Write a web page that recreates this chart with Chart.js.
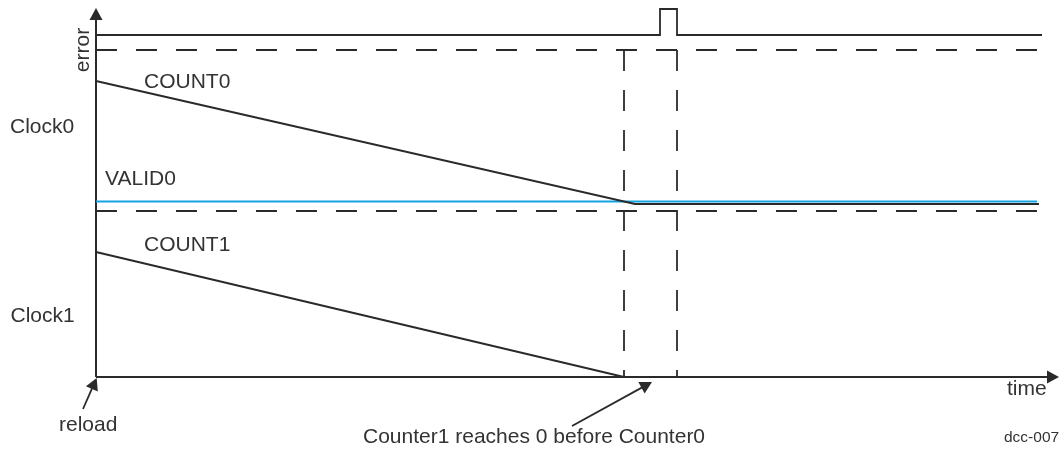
<!DOCTYPE html>
<html>
<head>
<meta charset="utf-8">
<script src="https://cdn.jsdelivr.net/npm/chart.js@4/dist/chart.umd.min.js"></script>
<style>
  html, body { margin: 0; padding: 0; background: #fff; }
  #wrap { width: 1064px; height: 455px; position: relative; }
</style>
</head>
<body>
<div id="wrap"><canvas id="timing"></canvas></div>
<script>
// time axis runs 0..96.4, signal level axis 0..37.7 (arbitrary units)
var errorTimes = [0, 56.4, 56.4, 58.1, 58.1, 94.6];
var errorLevels = [34.2, 34.2, 36.8, 36.8, 34.2, 34.2];
var count0Times = [0, 53.9, 94.3];
var count0Levels = [29.6, 17.3, 17.3];
var valid0Times = [0, 94.1];
var valid0Levels = [17.55, 17.55];
var count1Times = [0, 52.8];
var count1Levels = [12.5, 0];
var guideLevels = [32.7, 16.6];   // horizontal dashed references
var guideTimes = [52.8, 58.1];    // vertical dashed markers
var guideEnd = 94.1;
var timeAxisEnd = 96.3;
var levelAxisEnd = 36.9;
// annotation arrows: [from time, from level, to time, to level]
var reloadArrow = [-1.3, -3.2, 0.07, -0.1];
var counterArrow = [47.6, -4.9, 55.6, -0.5];

var labelTexts = ['error', 'COUNT0', 'Clock0', 'VALID0', 'COUNT1', 'Clock1',
                  'reload', 'time', 'Counter1 reaches 0 before Counter0', 'dcc-007'];

var INK = '#2a2a2a';
var TEXT = '#333333';
var BLUE = '#12a3e0';

function pts(xs, ys) {
    return xs.map(function (x, i) { return {x: x, y: ys[i]}; });
}

function lineSet(data, color, width, dash) {
    return {
        data: data,
        borderColor: color,
        borderWidth: width,
        borderDash: dash || [],
        pointRadius: 0,
        tension: 0,
        fill: false,
        clip: false
    };
}

var datasets = [];
guideLevels.forEach(function (lv) {
    datasets.push(lineSet([{x: 0, y: lv}, {x: guideEnd, y: lv}], INK, 1.8, [21, 19]));
});
guideTimes.forEach(function (t) {
    datasets.push(lineSet([{x: t, y: guideLevels[0]}, {x: t, y: 0}], INK, 1.8, [21, 19]));
});
datasets.push(lineSet(pts(errorTimes, errorLevels), INK, 1.8));
datasets.push(lineSet(pts(count0Times, count0Levels), INK, 1.8));
datasets.push(lineSet(pts(valid0Times, valid0Levels), BLUE, 2));
datasets.push(lineSet(pts(count1Times, count1Levels), INK, 1.8));
// axes
datasets.push(lineSet([{x: 0, y: 0}, {x: timeAxisEnd - 1.1, y: 0}], INK, 2));
datasets.push(lineSet([{x: 0, y: 0}, {x: 0, y: levelAxisEnd - 1.1}], INK, 2));

function head(ctx, fx, fy, tx, ty, len, half) {
    var a = Math.atan2(ty - fy, tx - fx);
    var bx = tx - len * Math.cos(a), by = ty - len * Math.sin(a);
    ctx.beginPath();
    ctx.moveTo(tx, ty);
    ctx.lineTo(bx + half * Math.sin(a), by - half * Math.cos(a));
    ctx.lineTo(bx - half * Math.sin(a), by + half * Math.cos(a));
    ctx.closePath();
    ctx.fill();
}

var decorations = {
    id: 'decorations',
    afterDatasetsDraw: function (chart) {
        var ctx = chart.ctx;
        var xs = chart.scales.x, ys = chart.scales.y;
        ctx.save();
        ctx.fillStyle = INK;
        ctx.strokeStyle = INK;
        // axis arrowheads
        head(ctx, xs.getPixelForValue(0), ys.getPixelForValue(0),
             xs.getPixelForValue(timeAxisEnd), ys.getPixelForValue(0), 12, 6.5);
        head(ctx, xs.getPixelForValue(0), ys.getPixelForValue(0),
             xs.getPixelForValue(0), ys.getPixelForValue(levelAxisEnd), 12, 6.5);
        // annotation arrows
        [reloadArrow, counterArrow].forEach(function (ar) {
            var fx = xs.getPixelForValue(ar[0]), fy = ys.getPixelForValue(ar[1]);
            var tx = xs.getPixelForValue(ar[2]), ty = ys.getPixelForValue(ar[3]);
            var d = Math.hypot(tx - fx, ty - fy);
            ctx.lineWidth = 1.8;
            ctx.beginPath();
            ctx.moveTo(fx, fy);
            ctx.lineTo(tx - 6 * (tx - fx) / d, ty - 6 * (ty - fy) / d);
            ctx.stroke();
            head(ctx, fx, fy, tx, ty, 12, 6.5);
        });
        // labels
        ctx.fillStyle = TEXT;
        ctx.textBaseline = 'alphabetic';
        ctx.font = '21px "Liberation Sans", Arial, sans-serif';
        ctx.save();
        ctx.translate(89, 50);
        ctx.rotate(-Math.PI / 2);
        ctx.textAlign = 'center';
        ctx.fillText(labelTexts[0], 0, 0);
        ctx.restore();
        ctx.textAlign = 'left';
        var spots = [null, [144, 88], [10, 133], [105, 185], [144, 251], [10.5, 322],
                     [59, 431], [1007, 395], [363, 443]];
        for (var i = 1; i < spots.length; i++) {
            ctx.fillText(labelTexts[i], spots[i][0], spots[i][1]);
        }
        ctx.font = '15.5px "Liberation Sans", Arial, sans-serif';
        ctx.fillText(labelTexts[9], 1004, 442);
        ctx.restore();
    }
};

new Chart(document.getElementById('timing'), {
    type: 'line',
    data: {datasets: datasets},
    options: {
        responsive: true,
        maintainAspectRatio: false,
        animation: false,
        events: [],
        layout: {padding: {left: 96, right: 4, top: 0, bottom: 78}},
        scales: {
            x: {type: 'linear', min: 0, max: 96.4, display: false},
            y: {type: 'linear', min: 0, max: 37.7, display: false}
        },
        plugins: {
            legend: {display: false},
            tooltip: {enabled: false}
        }
    },
    plugins: [decorations]
});
</script>
</body>
</html>
